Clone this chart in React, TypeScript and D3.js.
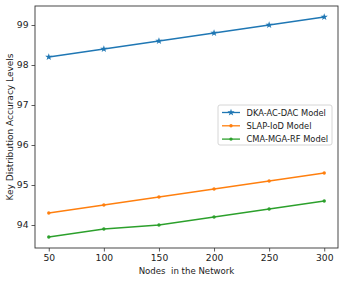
import React, { useEffect, useRef } from 'react';
import * as d3 from 'd3';

const nodes = [50, 100, 150, 200, 250, 300];
const dkaValues = [98.2, 98.4, 98.6, 98.8, 99.0, 99.2];
const slapValues = [94.3, 94.5, 94.7, 94.9, 95.1, 95.3];
const cmaValues = [93.7, 93.9, 94.0, 94.2, 94.4, 94.6];
const seriesNames = ['DKA-AC-DAC Model', 'SLAP-IoD Model', 'CMA-MGA-RF Model'];
const yTicks = [94, 95, 96, 97, 98, 99];

function App() {
    const chartRef = useRef<SVGSVGElement>(null);

    useEffect(() => {
        drawChart();
    }, []);

    const drawChart = () => {
        const svg = d3.select(chartRef.current);
        svg.selectAll('*').remove();

        const left = 35, right = 338, top = 6, bottom = 248;
        const font = 'DejaVu Sans, sans-serif';

        const xScale = d3.scaleLinear().domain([37.5, 312.5]).range([left, right]);
        const yScale = d3.scaleLinear().domain([93.425, 99.475]).range([bottom, top]);

        svg.append('rect')
            .attr('width', 344).attr('height', 282).attr('fill', '#fff');

        const series = [
            { name: seriesNames[0], values: dkaValues, color: '#1f77b4', marker: 'star' },
            { name: seriesNames[1], values: slapValues, color: '#ff7f0e', marker: 'dot' },
            { name: seriesNames[2], values: cmaValues, color: '#2ca02c', marker: 'dot' },
        ];

        const line = d3.line<number>()
            .x((d, i) => xScale(nodes[i]))
            .y(d => yScale(d));

        const drawMarker = (g: any, x: number, y: number, s: any) => {
            if (s.marker === 'star') {
                g.append('path')
                    .attr('d', d3.symbol(d3.symbolStar, 16)())
                    .attr('transform', `translate(${x},${y})`)
                    .attr('fill', s.color);
            } else {
                g.append('circle')
                    .attr('cx', x).attr('cy', y).attr('r', 1.7)
                    .attr('fill', s.color);
            }
        };

        series.forEach(s => {
            svg.append('path')
                .datum(s.values)
                .attr('d', line)
                .attr('fill', 'none')
                .attr('stroke', s.color)
                .attr('stroke-width', 1.3);
            s.values.forEach((v, i) => drawMarker(svg, xScale(nodes[i]), yScale(v), s));
        });

        const xAxis = svg.append('g')
            .attr('transform', `translate(0,${bottom})`)
            .call(d3.axisBottom(xScale).tickValues(nodes).tickFormat(d3.format('d')).tickSize(3.5).tickPadding(3));
        const yAxis = svg.append('g')
            .attr('transform', `translate(${left},0)`)
            .call(d3.axisLeft(yScale).tickValues(yTicks).tickFormat(d3.format('d')).tickSize(3.5).tickPadding(3));

        [xAxis, yAxis].forEach(a => {
            a.select('.domain').remove();
            a.selectAll('text').attr('font-family', font).attr('font-size', 9.2).attr('fill', '#222');
            a.selectAll('line').attr('stroke', '#333').attr('stroke-width', 0.8);
        });

        svg.append('rect')
            .attr('x', left).attr('y', top)
            .attr('width', right - left).attr('height', bottom - top)
            .attr('fill', 'none').attr('stroke', '#333').attr('stroke-width', 0.9);

        svg.append('text')
            .attr('x', (left + right) / 2).attr('y', 273.5)
            .attr('text-anchor', 'middle')
            .attr('font-family', font).attr('font-size', 8.6).attr('fill', '#222')
            .style('white-space', 'pre')
            .text('Nodes  in the Network');

        svg.append('text')
            .attr('transform', `translate(13,${(top + bottom) / 2}) rotate(-90)`)
            .attr('text-anchor', 'middle')
            .attr('font-family', font).attr('font-size', 9).attr('fill', '#222')
            .text('Key Distribution Accuracy Levels');

        // legend
        const lg = svg.append('g').attr('transform', 'translate(218,105)');
        lg.append('rect')
            .attr('width', 114).attr('height', 40).attr('rx', 2)
            .attr('fill', '#fff').attr('fill-opacity', 0.8)
            .attr('stroke', '#ccc').attr('stroke-width', 0.8);
        series.forEach((s, i) => {
            const y = 7.5 + i * 13.3;
            lg.append('line')
                .attr('x1', 4).attr('x2', 22).attr('y1', y).attr('y2', y)
                .attr('stroke', s.color).attr('stroke-width', 1.3);
            drawMarker(lg, 13, y, s);
            lg.append('text')
                .attr('x', 28.5).attr('y', y + 3.2)
                .attr('font-family', font).attr('font-size', 8.3).attr('fill', '#222')
                .text(s.name);
        });
    };

    return <svg ref={chartRef} width={344} height={282} style={{ position: 'absolute', left: 0, top: 0 }}></svg>;
}

export default App;
